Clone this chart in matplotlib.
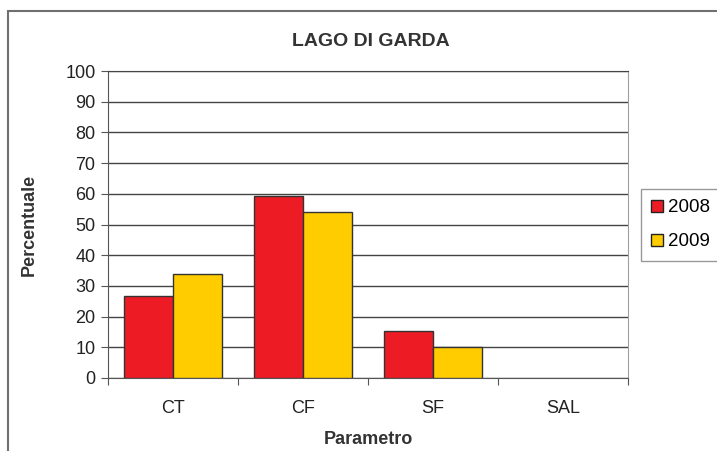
import numpy as np
import matplotlib
matplotlib.use("Agg")
import matplotlib.pyplot as plt
from matplotlib.patches import Rectangle

plt.rcParams['font.family'] = ['Liberation Sans', 'DejaVu Sans']

# dati
categorie = ["CT", "CF", "SF", "SAL"]
anni = ["2008", "2009"]
valori_2008 = [26.7, 59.4, 15.2, 0]
valori_2009 = [33.9, 54.0, 10.0, 0]
colori = ["#ED1C24", "#FFCC00"]

fig = plt.figure(figsize=(7.17, 4.51), dpi=100)
ax = fig.add_axes([108/717, 73/451, 520/717, 307/451])

# cornice esterna del grafico (tagliata a destra e in basso)
fig.patches.append(Rectangle((8/717, -0.1), 1.2, 1 - 11/451 + 0.1,
                             transform=fig.transFigure, fill=False,
                             edgecolor="#707070", linewidth=1.5))

x = np.arange(len(categorie)) + 0.5
w = 0.375
# barre a zero senza bordo (come nell'originale)
lw1 = [1 if v > 0 else 0 for v in valori_2008]
lw2 = [1 if v > 0 else 0 for v in valori_2009]
b1 = ax.bar(x - w/2, valori_2008, w, color=colori[0], edgecolor="#333333", linewidth=lw1, label=anni[0], zorder=3)
b2 = ax.bar(x + w/2, valori_2009, w, color=colori[1], edgecolor="#333333", linewidth=lw2, label=anni[1], zorder=3)

ax.set_xlim(0, len(categorie))
ax.set_ylim(0, 100)
ax.set_yticks(np.arange(0, 101, 10))
ax.set_xticks(np.arange(0, len(categorie) + 1))
ax.set_xticklabels([])
ax.set_xticks(x, minor=True)
ax.set_xticklabels(categorie, minor=True)
ax.tick_params(axis="x", which="minor", length=0, pad=16, labelsize=13, colors="#222222")
ax.tick_params(axis="x", which="major", length=5, color="#555555")
ax.tick_params(axis="y", length=5, color="#555555", labelsize=13, labelcolor="#222222", pad=4)

ax.yaxis.grid(True, color="#444444", linewidth=1)
ax.set_axisbelow(True)
for s in ["left", "bottom"]:
    ax.spines[s].set_color("#555555")
ax.spines["top"].set_color("#444444")
ax.spines["right"].set_color("#a0a0a0")

fig.text(371/717, 1 - 41/451, "LAGO DI GARDA", ha="center", va="center",
         fontsize=14, fontweight="bold", color="#333333")
ax.set_ylabel("Percentuale", fontsize=13, fontweight="bold", color="#333333", labelpad=20)
ax.set_xlabel("Parametro", fontsize=13, fontweight="bold", color="#333333", labelpad=10)

leg = fig.legend(handles=[b1, b2], labels=anni, loc="upper left",
                 bbox_to_anchor=(641/717, 1 - 189/451), fontsize=13.5,
                 frameon=True, fancybox=False, edgecolor="#808080",
                 handlelength=0.6, handleheight=0.6, handletextpad=0.3,
                 labelspacing=0.9, borderpad=0.55, borderaxespad=0)
leg.get_frame().set_linewidth(1)
for p in leg.get_patches():
    p.set_linewidth(1)
    p.set_edgecolor("#222222")

plt.savefig("out.png", dpi=100)
